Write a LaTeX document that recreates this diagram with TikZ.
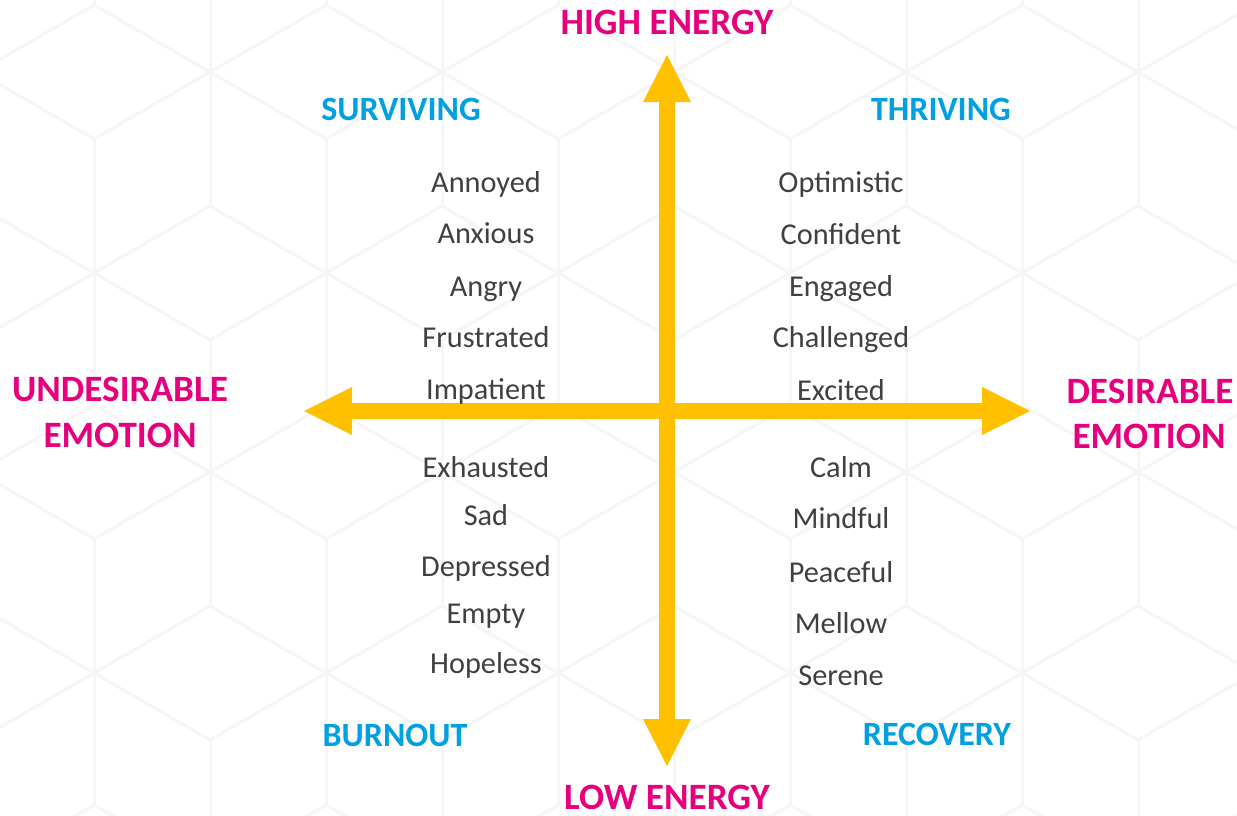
\documentclass[tikz,border=0pt]{standalone}
\usepackage{fontspec}
\setmainfont{Carlito}
\definecolor{axisyellow}{HTML}{FFC000}
\definecolor{pinklabel}{HTML}{E6007E}
\definecolor{bluelabel}{HTML}{00A0E3}
\definecolor{wordgray}{HTML}{404040}
\definecolor{hexline}{HTML}{F6F6F6}

\begin{document}
\begin{tikzpicture}[x=1pt,y=-1pt,
  axislabel/.style={font=\fontsize{37.2}{46}\selectfont\bfseries, text=pinklabel, inner sep=0pt, anchor=base, align=center},
  quadlabel/.style={font=\fontsize{34}{36}\selectfont\bfseries, text=bluelabel, inner sep=0pt, anchor=base},
  feeling/.style={font=\fontsize{30.3}{32}\selectfont, text=wordgray, inner sep=0pt, anchor=base},
  shaft/.style={draw=axisyellow, line width=16pt},
  head/.style={fill=axisyellow},
  hexspoke/.style={draw=hexline, line width=3pt}]

\useasboundingbox (0,0) rectangle (1237,816);
\fill[white] (0,0) rectangle (1237,816);

% faint rhombille (tumbling blocks) background
\begin{scope}
  \clip (0,0) rectangle (1237,816);
  \foreach \row in {-1,0,1,2} {
    \foreach \k in {-1,...,5} {
      \foreach \a in {30,90,...,330} {
        \draw[hexspoke] (210+232*\k, 72+400*\row) -- ++(\a:133.5);
        \draw[hexspoke] (94+232*\k, 273+400*\row) -- ++(\a:133.5);
      }
    }
  }
\end{scope}

% axes
\coordinate (O) at (667,411);
\coordinate (N) at (667,55);
\coordinate (S) at (667,766);
\coordinate (W) at (304,411);
\coordinate (E) at (1030,411);

\draw[shaft, shorten <=40pt, shorten >=40pt] (W) -- (E);
\draw[shaft, shorten <=40pt, shorten >=40pt] (N) -- (S);
\fill[head] (E) -- ++(-48,-24) -- ++(0,48) -- cycle;
\fill[head] (W) -- ++(48,-24) -- ++(0,48) -- cycle;
\fill[head] (N) -- ++(-24,47) -- ++(48,0) -- cycle;
\fill[head] (S) -- ++(-24,-47) -- ++(48,0) -- cycle;

% axis labels
\node[axislabel] (high) at (667,35) {HIGH ENERGY};
\node[axislabel] (low) at (667,809) {LOW ENERGY};
\node[axislabel] (undes1) at (120,401) {UNDESIRABLE};
\node[axislabel] (undes2) at (120,447) {EMOTION};
\node[axislabel] (des1) at (1150,403) {DESIRABLE};
\node[axislabel] (des2) at (1149,448) {EMOTION};

% quadrant labels
\node[quadlabel] (surviving) at (401,121) {SURVIVING};
\node[quadlabel] (thriving) at (941,120) {THRIVING};
\node[quadlabel] (burnout) at (395,746) {BURNOUT};
\node[quadlabel] (recovery) at (937,745) {RECOVERY};

% surviving
\node[feeling] (annoyed) at (486,192) {Annoyed};
\node[feeling] (anxious) at (486,243) {Anxious};
\node[feeling] (angry) at (486,296) {Angry};
\node[feeling] (frustrated) at (486,347) {Frustrated};
\node[feeling] (impatient) at (486,399) {Impatient};

% thriving
\node[feeling] (optimistic) at (841,192) {Optimistic};
\node[feeling] (confident) at (841,244) {Confident};
\node[feeling] (engaged) at (841,296) {Engaged};
\node[feeling] (challenged) at (841,347) {Challenged};
\node[feeling] (excited) at (841,400) {Excited};

% burnout
\node[feeling] (exhausted) at (486,477) {Exhausted};
\node[feeling] (sad) at (486,525) {Sad};
\node[feeling] (depressed) at (486,576) {Depressed};
\node[feeling] (empty) at (486,623) {Empty};
\node[feeling] (hopeless) at (486,673) {Hopeless};

% recovery
\node[feeling] (calm) at (841,477) {Calm};
\node[feeling] (mindful) at (841,528) {Mindful};
\node[feeling] (peaceful) at (841,582) {Peaceful};
\node[feeling] (mellow) at (841,633) {Mellow};
\node[feeling] (serene) at (841,685) {Serene};

\end{tikzpicture}
\end{document}
